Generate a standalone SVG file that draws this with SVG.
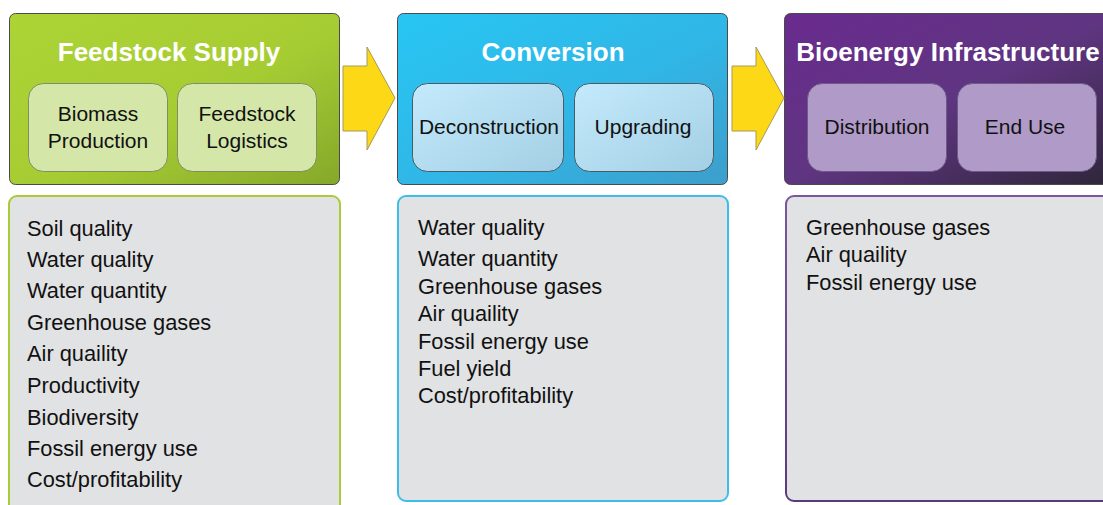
<svg xmlns="http://www.w3.org/2000/svg" width="1103" height="505" viewBox="0 0 1103 505">
<defs>
<linearGradient id="gGreen" x1="0" y1="0" x2="1" y2="1">
<stop offset="0" stop-color="#add435"/><stop offset="0.55" stop-color="#a6cc33"/><stop offset="1" stop-color="#86a82a"/>
</linearGradient>
<linearGradient id="gBlue" x1="0" y1="0" x2="1" y2="1">
<stop offset="0" stop-color="#28c6f3"/><stop offset="0.55" stop-color="#30b6e6"/><stop offset="1" stop-color="#3d9ecb"/>
</linearGradient>
<linearGradient id="gPurple" x1="0" y1="0" x2="1" y2="1">
<stop offset="0" stop-color="#6a2b8f"/><stop offset="0.5" stop-color="#5f3581"/><stop offset="1" stop-color="#2e2638"/>
</linearGradient>
<linearGradient id="gBlueIn" x1="0" y1="0" x2="1" y2="1">
<stop offset="0" stop-color="#c4eafc"/><stop offset="1" stop-color="#a3cfe4"/>
</linearGradient>
<linearGradient id="gPurpleEdge" x1="0" y1="0" x2="0" y2="1">
<stop offset="0" stop-color="#7c55a0"/><stop offset="1" stop-color="#5a3a7c"/>
</linearGradient>
</defs>
<style>
.hdr{stroke:#4a4a4a;stroke-width:1}
.title{font-family:"Liberation Sans",Arial,sans-serif;font-weight:bold;font-size:26px;fill:#ffffff;text-anchor:middle}
.sub{font-family:"Liberation Sans",Arial,sans-serif;font-size:21px;fill:#111111;text-anchor:middle}
.list{font-family:"Liberation Sans",Arial,sans-serif;font-size:21.8px;fill:#111111}
.inG{fill:#d5e6a9;stroke:#7f8f63;stroke-width:1}
.inB{fill:url(#gBlueIn);stroke:#4b5a64;stroke-width:1}
.inP{fill:#b09ac8;stroke:#6e5a86;stroke-width:1}
.panel{fill:#e1e2e4;stroke-width:2}
.arrow{fill:#fdd816;stroke:#a59a5c;stroke-width:1}
</style>

<g id="feedstock-supply">
<rect class="hdr" x="9.5" y="13.5" width="330" height="171" rx="6" fill="url(#gGreen)"/>
<text class="title" x="169" y="61">Feedstock Supply</text>
<rect class="inG" x="28.5" y="83.5" width="139" height="88" rx="15"/>
<text class="sub" x="98" y="121">Biomass</text>
<text class="sub" x="98" y="148">Production</text>
<rect class="inG" x="177.5" y="83.5" width="139" height="88" rx="15"/>
<text class="sub" x="247" y="121">Feedstock</text>
<text class="sub" x="247" y="148">Logistics</text>
</g>

<g id="feedstock-impacts">
<rect class="panel" x="9" y="196" width="331" height="320" rx="8" stroke="#a8cc38"/>
<text class="list" x="27" y="236">Soil quality</text>
<text class="list" x="27" y="267">Water quality</text>
<text class="list" x="27" y="298">Water quantity</text>
<text class="list" x="27" y="330">Greenhouse gases</text>
<text class="list" x="27" y="361">Air quaility</text>
<text class="list" x="27" y="393">Productivity</text>
<text class="list" x="27" y="425">Biodiversity</text>
<text class="list" x="27" y="456">Fossil energy use</text>
<text class="list" x="27" y="487">Cost/profitability</text>
</g>

<g id="conversion">
<rect class="hdr" x="397.5" y="13.5" width="330" height="171" rx="6" fill="url(#gBlue)"/>
<text class="title" x="553" y="61">Conversion</text>
<rect class="inB" x="412.5" y="83.5" width="151" height="88" rx="15"/>
<text class="sub" x="489" y="134">Deconstruction</text>
<rect class="inB" x="574.5" y="83.5" width="139" height="88" rx="15"/>
<text class="sub" x="643" y="134">Upgrading</text>
</g>

<g id="conversion-impacts">
<rect class="panel" x="398" y="196" width="330" height="305" rx="8" stroke="#3fbdea"/>
<text class="list" x="418" y="235">Water quality</text>
<text class="list" x="418" y="266">Water quantity</text>
<text class="list" x="418" y="294">Greenhouse gases</text>
<text class="list" x="418" y="321">Air quaility</text>
<text class="list" x="418" y="349">Fossil energy use</text>
<text class="list" x="418" y="376">Fuel yield</text>
<text class="list" x="418" y="403">Cost/profitability</text>
</g>

<g id="bioenergy-infrastructure">
<rect class="hdr" x="784.5" y="13.5" width="331" height="171" rx="6" fill="url(#gPurple)"/>
<text class="title" x="948" y="61">Bioenergy Infrastructure</text>
<rect class="inP" x="807.5" y="83.5" width="139" height="88" rx="15"/>
<text class="sub" x="877" y="134">Distribution</text>
<rect class="inP" x="957.5" y="83.5" width="139" height="88" rx="15"/>
<text class="sub" x="1025" y="134">End Use</text>
</g>

<g id="bioenergy-impacts">
<rect class="panel" x="786" y="196" width="330" height="305" rx="8" stroke="url(#gPurpleEdge)"/>
<text class="list" x="806" y="235">Greenhouse gases</text>
<text class="list" x="806" y="262">Air quaility</text>
<text class="list" x="806" y="290">Fossil energy use</text>
</g>

<g id="connectors">
<polygon class="arrow" points="343,66 367,66 367,47 395,98 367,150 367,131 343,131"/>
<polygon class="arrow" points="732,66 756,66 756,47 784,98 756,150 756,131 732,131"/>
</g>
</svg>
